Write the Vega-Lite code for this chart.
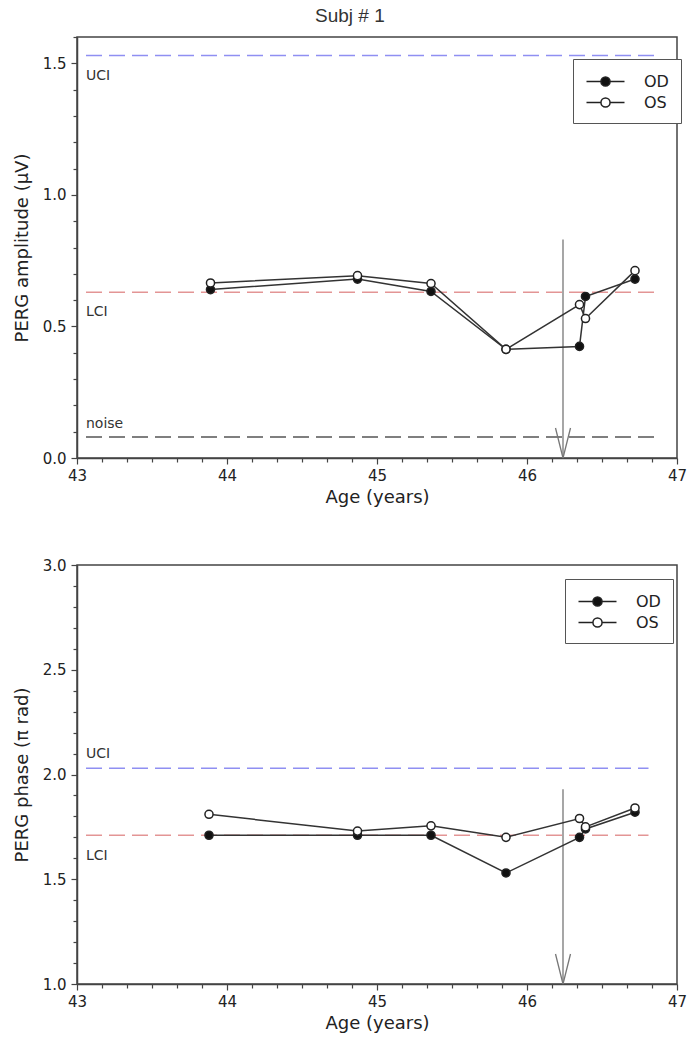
{
  "$schema": "https://vega.github.io/schema/vega-lite/v6.json",
  "padding": {"left": 12, "top": 7, "right": 6, "bottom": 6},
  "background": "white",
  "title": {"text": "Subj # 1", "fontSize": 19, "font": "Liberation Sans Narrow, Liberation Sans", "fontWeight": "normal", "color": "#333", "anchor": "middle", "offset": 3},
  "bounds": "flush",
  "spacing": 107,
  "config": {
    "font": "DejaVu Sans",
    "view": {"stroke": "#444", "strokeWidth": 1.5},
    "axis": {"labelFont": "DejaVu Sans", "titleFont": "DejaVu Sans", "domainColor": "#444", "domainWidth": 1.5, "tickColor": "#444", "tickWidth": 1.2, "labelFontSize": 15, "labelColor": "#222", "titleFontSize": 18, "titleFontWeight": "normal", "titleColor": "#222", "grid": false, "labelPadding": 4, "titlePadding": 5, "labelFlush": false, "labelOverlap": false},
    "legend": {"title": null, "orient": "none", "labelFont": "DejaVu Sans", "symbolType": "M-2,0H-0.48M0.48,0H2M-0.48,0A0.48,0.48 0 1,0 0.48,0A0.48,0.48 0 1,0 -0.48,0Z", "symbolSize": 361, "symbolOffset": 10, "symbolStrokeColor": "#222", "symbolStrokeWidth": 1.5, "symbolOpacity": 1, "labelFontSize": 16, "labelColor": "#222", "strokeColor": "#555", "fillColor": "white", "padding": 12, "rowPadding": 2, "labelOffset": 28}
  },
  "datasets": {
    "amp": [
      {"x": 43.89, "y": 0.64, "eye": "OD"}, {"x": 44.87, "y": 0.68, "eye": "OD"}, {"x": 45.36, "y": 0.633, "eye": "OD"}, {"x": 45.86, "y": 0.413, "eye": "OD"}, {"x": 46.35, "y": 0.424, "eye": "OD"}, {"x": 46.39, "y": 0.614, "eye": "OD"}, {"x": 46.72, "y": 0.68, "eye": "OD"},
      {"x": 43.89, "y": 0.665, "eye": "OS"}, {"x": 44.87, "y": 0.693, "eye": "OS"}, {"x": 45.36, "y": 0.663, "eye": "OS"}, {"x": 45.86, "y": 0.413, "eye": "OS"}, {"x": 46.35, "y": 0.583, "eye": "OS"}, {"x": 46.39, "y": 0.53, "eye": "OS"}, {"x": 46.72, "y": 0.712, "eye": "OS"}
    ],
    "phase": [
      {"x": 43.88, "y": 1.71, "eye": "OD"}, {"x": 44.87, "y": 1.71, "eye": "OD"}, {"x": 45.36, "y": 1.71, "eye": "OD"}, {"x": 45.86, "y": 1.53, "eye": "OD"}, {"x": 46.35, "y": 1.70, "eye": "OD"}, {"x": 46.39, "y": 1.74, "eye": "OD"}, {"x": 46.72, "y": 1.82, "eye": "OD"},
      {"x": 43.88, "y": 1.81, "eye": "OS"}, {"x": 44.87, "y": 1.73, "eye": "OS"}, {"x": 45.36, "y": 1.755, "eye": "OS"}, {"x": 45.86, "y": 1.70, "eye": "OS"}, {"x": 46.35, "y": 1.79, "eye": "OS"}, {"x": 46.39, "y": 1.75, "eye": "OS"}, {"x": 46.72, "y": 1.84, "eye": "OS"}
    ],
    "ampRef": [
      {"kind": "UCI", "x": 43.06, "x2": 46.89, "y": 1.53},
      {"kind": "LCI", "x": 43.06, "x2": 46.89, "y": 0.63},
      {"kind": "noise", "x": 43.06, "x2": 46.89, "y": 0.08}
    ],
    "phaseRef": [
      {"kind": "UCI", "x": 43.06, "x2": 46.81, "y": 2.03},
      {"kind": "LCI", "x": 43.06, "x2": 46.81, "y": 1.71}
    ],
    "ampLab": [
      {"label": "UCI", "x": 43.06, "y": 1.45},
      {"label": "LCI", "x": 43.06, "y": 0.553},
      {"label": "noise", "x": 43.06, "y": 0.129}
    ],
    "phaseLab": [
      {"label": "UCI", "x": 43.06, "y": 2.096},
      {"label": "LCI", "x": 43.06, "y": 1.612}
    ],
    "ampArrow": [{"x": 46.24, "y": 0.83, "y2": 0}],
    "ampHead": [{"x": 46.24, "y": 0}],
    "phaseArrow": [{"x": 46.24, "y": 1.93, "y2": 1.0}],
    "phaseHead": [{"x": 46.24, "y": 1.0}]
  },
  "resolve": {"scale": {"fill": "independent", "stroke": "independent"}, "legend": {"fill": "independent"}},
  "vconcat": [
    {
      "width": 600,
      "height": 421,
      "encoding": {
        "x": {"field": "x", "type": "quantitative", "scale": {"domain": [43, 47], "nice": false, "zero": false},
          "axis": {"title": "Age (years)", "values": [43, 43.1667, 43.3333, 43.5, 43.6667, 43.8333, 44, 44.1667, 44.3333, 44.5, 44.6667, 44.8333, 45, 45.1667, 45.3333, 45.5, 45.6667, 45.8333, 46, 46.1667, 46.3333, 46.5, 46.6667, 46.8333, 47],
            "labelExpr": "abs(datum.value - round(datum.value)) < 0.01 ? format(datum.value, 'd') : ''",
            "tickSize": {"condition": {"test": "abs(datum.value - round(datum.value)) < 0.01", "value": 6}, "value": 4}}},
        "y": {"field": "y", "type": "quantitative", "scale": {"domain": [0, 1.6], "nice": false, "zero": false},
          "axis": {"title": "PERG amplitude (μV)", "titlePadding": 11, "labelPadding": 5, "values": [0, 0.1, 0.2, 0.3, 0.4, 0.5, 0.6, 0.7, 0.8, 0.9, 1.0, 1.1, 1.2, 1.3, 1.4, 1.5, 1.6],
            "labelExpr": "abs(datum.value*2 - round(datum.value*2)) < 0.001 && datum.value < 1.55 ? format(datum.value, '.1f') : ''",
            "tickSize": {"condition": {"test": "abs(datum.value*2 - round(datum.value*2)) < 0.001", "value": 6}, "value": 4}}}
      },
      "layer": [
        {"data": {"name": "ampRef"}, "mark": {"type": "rule", "strokeWidth": 1.5, "strokeDash": [16, 7]},
          "encoding": {"x2": {"field": "x2"}, "stroke": {"field": "kind", "type": "nominal", "scale": {"domain": ["UCI", "LCI", "noise"], "range": ["#8f8ff2", "#e39595", "#555555"]}, "legend": null}}},
        {"data": {"name": "ampLab"}, "mark": {"type": "text", "align": "left", "baseline": "middle", "fontSize": 14, "font": "DejaVu Sans", "color": "#333"},
          "encoding": {"text": {"field": "label"}}},
        {"data": {"name": "ampArrow"}, "mark": {"type": "rule", "stroke": "#777", "strokeWidth": 1.3},
          "encoding": {"y2": {"field": "y2"}}},
        {"data": {"name": "ampHead"}, "mark": {"type": "point", "shape": "M-1,-4L0,0L1,-4", "size": 225, "filled": false, "stroke": "#777", "strokeWidth": 1.3, "opacity": 1}},
        {"data": {"name": "amp"}, "mark": {"type": "line", "stroke": "#333", "strokeWidth": 1.5},
          "encoding": {"detail": {"field": "eye"}}},
        {"data": {"name": "amp"}, "mark": {"type": "point", "shape": "circle", "size": 66, "filled": true, "stroke": "#222", "strokeWidth": 1.5, "opacity": 1},
          "encoding": {"fill": {"field": "eye", "type": "nominal", "scale": {"domain": ["OD", "OS"], "range": ["#111111", "#ffffff"]},
            "legend": {"legendX": 496, "legendY": 22}}}}
      ]
    },
    {
      "width": 600,
      "height": 419,
      "encoding": {
        "x": {"field": "x", "type": "quantitative", "scale": {"domain": [43, 47], "nice": false, "zero": false},
          "axis": {"title": "Age (years)", "values": [43, 43.1667, 43.3333, 43.5, 43.6667, 43.8333, 44, 44.1667, 44.3333, 44.5, 44.6667, 44.8333, 45, 45.1667, 45.3333, 45.5, 45.6667, 45.8333, 46, 46.1667, 46.3333, 46.5, 46.6667, 46.8333, 47],
            "labelExpr": "abs(datum.value - round(datum.value)) < 0.01 ? format(datum.value, 'd') : ''",
            "tickSize": {"condition": {"test": "abs(datum.value - round(datum.value)) < 0.01", "value": 6}, "value": 4}}},
        "y": {"field": "y", "type": "quantitative", "scale": {"domain": [1, 3], "nice": false, "zero": false},
          "axis": {"title": "PERG phase (π rad)", "titlePadding": 11, "labelPadding": 5, "values": [1.0, 1.1, 1.2, 1.3, 1.4, 1.5, 1.6, 1.7, 1.8, 1.9, 2.0, 2.1, 2.2, 2.3, 2.4, 2.5, 2.6, 2.7, 2.8, 2.9, 3.0],
            "labelExpr": "abs(datum.value*2 - round(datum.value*2)) < 0.001 ? format(datum.value, '.1f') : ''",
            "tickSize": {"condition": {"test": "abs(datum.value*2 - round(datum.value*2)) < 0.001", "value": 6}, "value": 4}}}
      },
      "layer": [
        {"data": {"name": "phaseRef"}, "mark": {"type": "rule", "strokeWidth": 1.5, "strokeDash": [16, 7]},
          "encoding": {"x2": {"field": "x2"}, "stroke": {"field": "kind", "type": "nominal", "scale": {"domain": ["UCI", "LCI"], "range": ["#8f8ff2", "#e39595"]}, "legend": null}}},
        {"data": {"name": "phaseLab"}, "mark": {"type": "text", "align": "left", "baseline": "middle", "fontSize": 14, "font": "DejaVu Sans", "color": "#333"},
          "encoding": {"text": {"field": "label"}}},
        {"data": {"name": "phaseArrow"}, "mark": {"type": "rule", "stroke": "#777", "strokeWidth": 1.3},
          "encoding": {"y2": {"field": "y2"}}},
        {"data": {"name": "phaseHead"}, "mark": {"type": "point", "shape": "M-1,-4L0,0L1,-4", "size": 225, "filled": false, "stroke": "#777", "strokeWidth": 1.3, "opacity": 1}},
        {"data": {"name": "phase"}, "mark": {"type": "line", "stroke": "#333", "strokeWidth": 1.5},
          "encoding": {"detail": {"field": "eye"}}},
        {"data": {"name": "phase"}, "mark": {"type": "point", "shape": "circle", "size": 66, "filled": true, "stroke": "#222", "strokeWidth": 1.5, "opacity": 1},
          "encoding": {"fill": {"field": "eye", "type": "nominal", "scale": {"domain": ["OD", "OS"], "range": ["#111111", "#ffffff"]},
            "legend": {"legendX": 488, "legendY": 14}}}}
      ]
    }
  ]
}
